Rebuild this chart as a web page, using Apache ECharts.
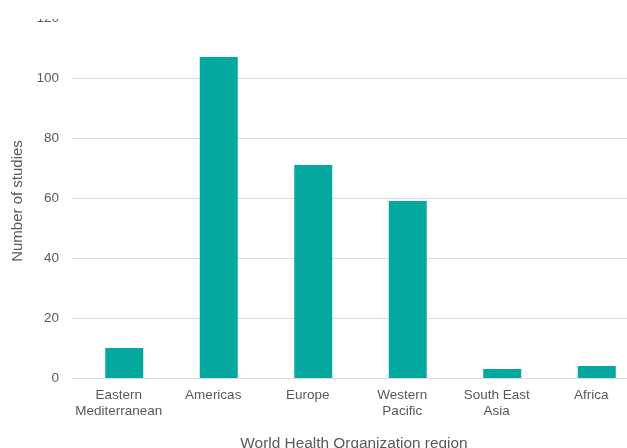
<!DOCTYPE html>
<html>
<head>
<meta charset="utf-8">
<script src="https://cdn.jsdelivr.net/npm/echarts@6/dist/echarts.min.js"></script>
<style>
html,body{margin:0;padding:0;background:#fff;overflow:hidden;width:627px;height:448px;}
#c{position:absolute;left:0;top:0;width:627px;height:448px;}
#mask{position:absolute;left:0;top:0;width:627px;height:19px;background:#fff;z-index:10;}
</style>
</head>
<body>
<div id="c"></div>
<div id="mask"></div>
<script>
const categories = ['Eastern\nMediterranean', 'Americas', 'Europe', 'Western\nPacific', 'South East\nAsia', 'Africa'];
const studies = [10, 107, 71, 59, 3, 4];
const yTicks = [0, 20, 40, 60, 80, 100, 120];

const chart = echarts.init(document.getElementById('c'));
const txt = '#595959';
const font = 'Liberation Sans, Arial, sans-serif';
chart.setOption({
  animation: false,
  grid: [
    {left: 77, top: 18, bottom: 70, right: -17, containLabel: false, outerBoundsMode: 'none'},
    {left: 72, top: 18, bottom: 70, right: -17, containLabel: false, outerBoundsMode: 'none'}
  ],
  xAxis: [
    {
      type: 'category', data: categories, gridIndex: 0,
      axisLine: {show: false}, axisTick: {show: false},
      axisLabel: {color: txt, fontSize: 13.5, fontFamily: font, lineHeight: 16, margin: 9, interval: 0, padding: [0, 11, 0, 0]},
      name: 'World Health Organization region', nameLocation: 'middle', nameGap: 58,
      nameTextStyle: {color: txt, fontSize: 15.4, fontFamily: font, padding: [0, 13, 0, 0]}
    },
    {type: 'category', data: categories, gridIndex: 1, show: false}
  ],
  yAxis: [
    {
      type: 'value', gridIndex: 0, min: yTicks[0], max: yTicks[yTicks.length - 1], interval: 20,
      axisLine: {show: false}, axisTick: {show: false}, splitLine: {show: false},
      axisLabel: {color: txt, fontSize: 13.5, fontFamily: font, margin: 18},
      name: 'Number of studies', nameLocation: 'middle', nameGap: 49,
      nameTextStyle: {color: txt, fontSize: 15, fontFamily: font, padding: [0, 6, 0, 0]}
    },
    {
      type: 'value', gridIndex: 1, min: yTicks[0], max: yTicks[yTicks.length - 1], interval: 20,
      axisLine: {show: false}, axisTick: {show: false}, axisLabel: {show: false},
      splitLine: {show: true, lineStyle: {color: '#d9d9d9', width: 1}}
    }
  ],
  series: [{
    type: 'bar', data: studies, xAxisIndex: 0, yAxisIndex: 0,
    barWidth: 38, itemStyle: {color: '#05A89F'}
  }]
});
</script>
</body>
</html>
